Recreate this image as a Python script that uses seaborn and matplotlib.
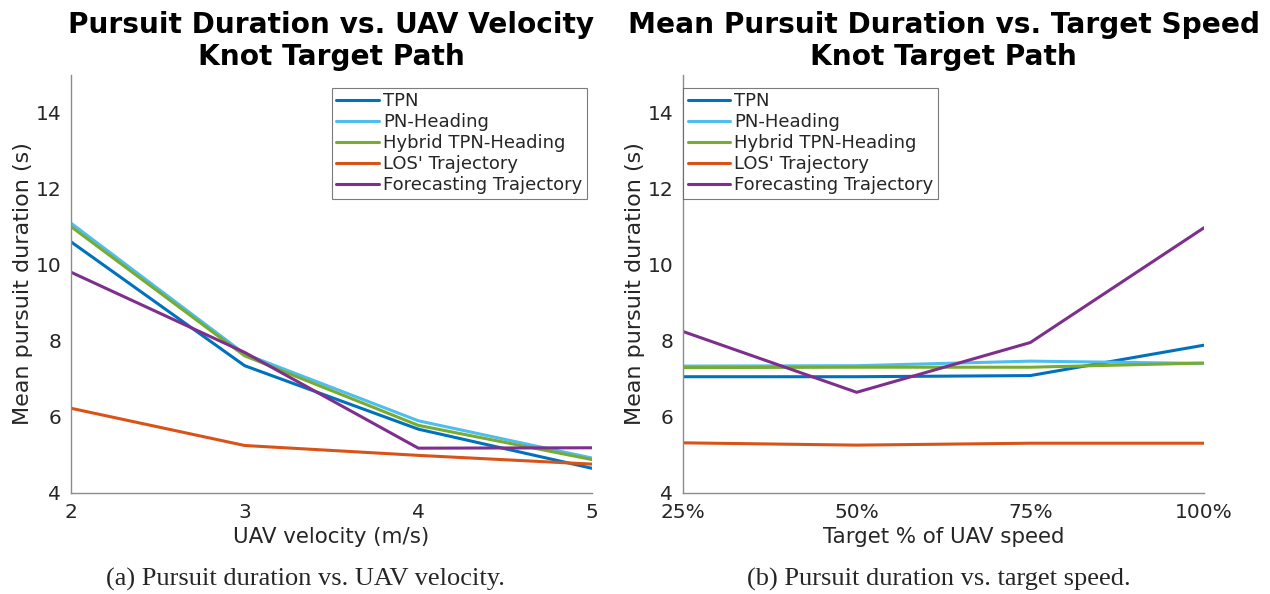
import matplotlib
matplotlib.use("Agg")
import matplotlib.pyplot as plt
import seaborn as sns
import pandas as pd

methods = ["TPN", "PN-Heading", "Hybrid TPN-Heading", "LOS' Trajectory", "Forecasting Trajectory"]
colors = ["#0072BD", "#4DBEEE", "#77AC30", "#D95319", "#7E2F8E"]

# Panel (a): mean pursuit duration against UAV velocity
uav_velocity = [2, 3, 4, 5]
dur_tpn_a = [10.61, 7.35, 5.68, 4.65]
dur_pnh_a = [11.10, 7.66, 5.90, 4.92]
dur_hyb_a = [11.01, 7.61, 5.78, 4.88]
dur_los_a = [6.23, 5.25, 4.99, 4.76]
dur_fct_a = [9.81, 7.70, 5.18, 5.19]

# Panel (b): mean pursuit duration against target speed (% of UAV speed)
target_pct = [25, 50, 75, 100]
target_labels = ["25%", "50%", "75%", "100%"]
dur_tpn_b = [7.06, 7.06, 7.09, 7.89]
dur_pnh_b = [7.34, 7.35, 7.47, 7.41]
dur_hyb_b = [7.30, 7.31, 7.31, 7.42]
dur_los_b = [5.32, 5.26, 5.31, 5.31]
dur_fct_b = [8.25, 6.65, 7.96, 10.98]


def long_frame(x, series):
    rows = []
    for name, vals in zip(methods, series):
        for xv, yv in zip(x, vals):
            rows.append({"x": xv, "y": yv, "method": name})
    return pd.DataFrame(rows)


df_a = long_frame(uav_velocity, [dur_tpn_a, dur_pnh_a, dur_hyb_a, dur_los_a, dur_fct_a])
df_b = long_frame(target_pct, [dur_tpn_b, dur_pnh_b, dur_hyb_b, dur_los_b, dur_fct_b])

sns.set_style("white")
plt.rcParams["font.family"] = ["DejaVu Sans"]

fig = plt.figure(figsize=(12.7, 5.94), dpi=100)
W, H = 1270, 594
ax_a = fig.add_axes([71 / W, 1 - 493 / H, (592 - 71) / W, (493 - 75) / H])
ax_b = fig.add_axes([683 / W, 1 - 493 / H, (1204 - 683) / W, (493 - 75) / H])

palette = dict(zip(methods, colors))
spine_col = "#8c8c8c"
txt_col = "#262626"

for ax, df in [(ax_a, df_a), (ax_b, df_b)]:
    sns.lineplot(data=df, x="x", y="y", hue="method", hue_order=methods,
                 palette=palette, linewidth=2.2, ax=ax, legend=True)
    ax.set_ylim(4, 15)
    ax.set_yticks([4, 6, 8, 10, 12, 14])
    for side in ["top", "right"]:
        ax.spines[side].set_visible(False)
    for side in ["left", "bottom"]:
        ax.spines[side].set_color(spine_col)
        ax.spines[side].set_linewidth(1.0)
    ax.tick_params(direction="in", length=5, width=0.8, color=spine_col,
                   labelsize=14.5, labelcolor=txt_col, pad=7)
    ax.set_ylabel("Mean pursuit duration (s)", fontsize=16, color=txt_col, labelpad=2)
    leg = ax.legend(title=None, fontsize=13, frameon=True, fancybox=False,
                    handlelength=2.35, handletextpad=0.25, borderpad=0.25,
                    labelspacing=0.17, borderaxespad=0.0)
    leg.get_frame().set_edgecolor("#5a5a5a")
    leg.get_frame().set_linewidth(0.8)
    for t in leg.get_texts():
        t.set_color(txt_col)

ax_a.set_xlim(2, 5)
ax_a.set_xticks(uav_velocity)
ax_a.set_xlabel("UAV velocity (m/s)", fontsize=15.4, color=txt_col)
ax_a.set_title("Pursuit Duration vs. UAV Velocity\nKnot Target Path",
               fontsize=20.2, fontweight="bold", color="black", pad=7)
ax_a.legend_.set_bbox_to_anchor((0.99, 0.97))
ax_a.legend_._loc = 1

ax_b.set_xlim(25, 100)
ax_b.set_xticks(target_pct)
ax_b.set_xticklabels(target_labels)
ax_b.set_xlabel("Target % of UAV speed", fontsize=15.4, color=txt_col)
ax_b.set_title("Mean Pursuit Duration vs. Target Speed\nKnot Target Path",
               fontsize=20.2, fontweight="bold", color="black", pad=7)
ax_b.legend_.set_bbox_to_anchor((0.0, 0.97))
ax_b.legend_._loc = 2

fig.text(305 / W, 1 - 579 / H, "(a) Pursuit duration vs. UAV velocity.",
         family="Liberation Serif", fontsize=19, ha="center", va="center")
fig.text(939 / W, 1 - 579 / H, "(b) Pursuit duration vs. target speed.",
         family="Liberation Serif", fontsize=19, ha="center", va="center")

fig.savefig("out.png", dpi=100, facecolor="white")
